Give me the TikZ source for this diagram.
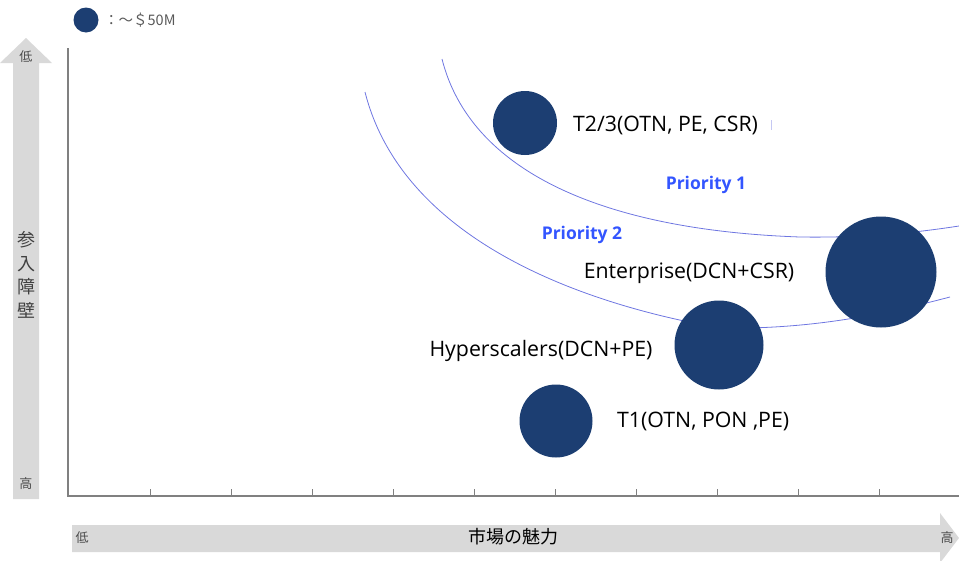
\documentclass[tikz,border=0pt]{standalone}
\usepackage{fontspec}
\setmainfont{Open Sans}
\newfontfamily\jpfont{Noto Sans CJK JP}
\usetikzlibrary{positioning}
\definecolor{navy}{RGB}{28,62,114}
\definecolor{ringblue}{RGB}{110,118,225}
\definecolor{prioblue}{RGB}{51,85,255}
\definecolor{band}{RGB}{217,217,217}
\definecolor{axisgray}{RGB}{128,128,128}
\tikzstyle{bubble} = [circle, fill = navy, inner sep = 0]
\tikzstyle{tag} = [inner sep = 0, font = \fontsize{21.3}{23}\selectfont]
\tikzstyle{priority} = [inner sep = 0, text = prioblue,
  font = \bfseries\fontsize{17.5}{19}\selectfont]
\tikzstyle{ring} = [draw = ringblue, line width = 0.8]
\tikzstyle{jp} = [inner sep = 0, text = black!75,
  font = \jpfont\fontsize{18}{20}\selectfont]
\tikzstyle{jpsmall} = [inner sep = 0, text = black!70,
  font = \jpfont\fontsize{13}{15}\selectfont]

\begin{document}
\begin{tikzpicture}[x = 1pt, y = -1pt, node distance = 0]
    \useasboundingbox (0, 0) rectangle (959, 560);

    \fill [band] (13, 499) -- (13, 63) -- (0, 63) -- (26, 38) -- (52, 63)
      -- (39, 63) -- (39, 499) -- cycle;
    \fill [band] (72, 525) -- (940, 525) -- (940, 513) -- (959, 538)
      -- (940, 563) -- (940, 552) -- (72, 552) -- cycle;

    \node [jpsmall] (y-low) at (26, 57) {低};
    \node [jpsmall] (y-high) at (26, 484) {高};
    \node [jp, align = center, font = \jpfont\fontsize{18}{23.5}\selectfont]
      (y-title) at (26, 275) {参\\入\\障\\壁};
    \node [jpsmall] (x-low) at (82, 538) {低};
    \node [jpsmall] (x-high) at (947, 538) {高};
    \node [jp, text = black] (x-title) at (513, 537) {市場の魅力};

    \draw [axisgray, line width = 1.4] (68, 48) -- (68, 496) -- (959, 496);
    \foreach \i in {0, ..., 9}
      \draw [axisgray, line width = 1] (150 + 81 * \i, 489) -- (150 + 81 * \i, 496);

    \draw [ring] (442, 59) .. controls (470, 170) and (600, 230) .. (800, 237)
      .. controls (870, 238) and (920, 232) .. (959, 226);
    \draw [ring] (365, 92) .. controls (400, 230) and (560, 300) .. (720, 328)
      .. controls (820, 330) and (900, 310) .. (950, 297);

    \node [bubble, minimum size = 25] (key) at (86, 20) {};
    \node [inner sep = 0, anchor = west, text = black!65,
      font = \jpfont\fontsize{14.5}{16}\selectfont] (key-text) at (104, 20) {：～＄50M};

    \node [bubble, minimum size = 64] (t-23) at (525, 123) {};
    \node [bubble, minimum size = 111] (ent) at (881, 272) {};
    \node [bubble, minimum size = 89] (hyp) at (719, 345) {};
    \node [bubble, minimum size = 73] (t-1) at (556, 421) {};

    \node [tag, anchor = west] (t-23-text) at (573, 125) {T2/3(OTN, PE, CSR)};
    \draw [ringblue!40, line width = 1] (771, 120) -- (771, 130);
    \node [tag] (ent-text) at (689, 273) {Enterprise(DCN+CSR)};
    \node [tag] (hyp-text) at (541, 351) {Hyperscalers(DCN+PE)};
    \node [tag, anchor = west] (t-1-text) at (617, 421) {T1(OTN, PON ,PE)};

    \node [priority] (prio-1) at (706, 185) {Priority 1};
    \node [priority] (prio-2) at (582, 235) {Priority 2};
  \end{tikzpicture}
\end{document}
